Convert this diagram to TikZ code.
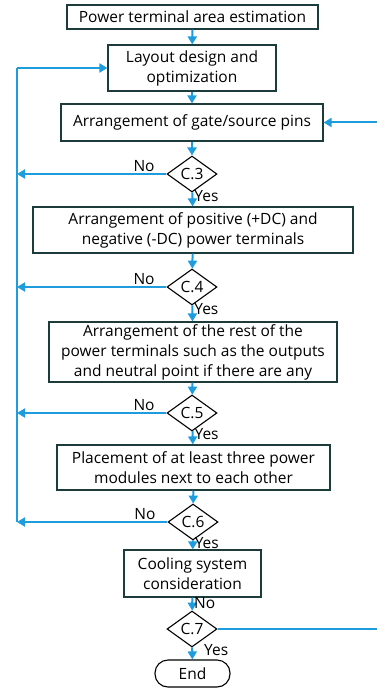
\documentclass[tikz,border=0pt]{standalone}
\usepackage{fontspec}
\setmainfont{Open Sans}
\usepackage{xcolor}
\usetikzlibrary{arrows.meta,positioning,calc,shapes.geometric}

\definecolor{flowblue}{RGB}{29,157,222}
\definecolor{boxline}{RGB}{28,60,60}

\begin{document}
\begin{tikzpicture}[
  x=1pt, y=-1pt,
  font=\fontsize{15.5}{20}\selectfont,
  box/.style={draw=boxline, line width=1.2pt, align=center, inner sep=1pt},
  cond/.style={draw, diamond, line width=1.1pt, minimum width=50pt,
    minimum height=36pt, inner sep=0pt},
  term/.style={draw, rounded corners=13pt, line width=1.1pt,
    minimum width=75pt, minimum height=27pt},
  lbl/.style={inner sep=1pt, text=black},
  flow/.style={-{Triangle[length=8pt,width=9pt]}, flowblue, line width=2pt},
  line/.style={flowblue, line width=2pt},
]
\useasboundingbox (0,0) rectangle (376,692);

% Steps
\node[box, minimum width=251pt, minimum height=24pt] (B1) at (192.5,17)
  {Power terminal area estimation};
\node[box, minimum width=168pt, minimum height=46pt] (B2) at (192,68)
  {Layout design and\\optimization};
\node[box, minimum width=262pt, minimum height=37pt] (B3) at (192,122.5)
  {Arrangement of gate/source pins};
\node[cond] (C3) at (192,174) {C.3};
\node[box, minimum width=320pt, minimum height=46pt] (B4) at (193,230)
  {Arrangement of positive (+DC) and\\negative (-DC) power terminals};
\node[cond] (C4) at (192,287) {C.4};
\node[box, minimum width=288pt, minimum height=60pt] (B5) at (193,352)
  {Arrangement of the rest of the\\power terminals such as the outputs\\and neutral point if there are any};
\node[cond] (C5) at (192,413) {C.5};
\node[box, minimum width=273pt, minimum height=45pt] (B6) at (193.5,467.5)
  {Placement of at least three power\\modules next to each other};
\node[cond] (C6) at (193,522) {C.6};
\node[box, minimum width=137pt, minimum height=47pt] (B7) at (192.5,573.5)
  {Cooling system\\consideration};
\node[cond] (C7) at (192,629) {C.7};
\node[term] (End) at (192.5,673.5) {End};

% Loop corners
\coordinate (Ltop) at (17,68);
\coordinate (Lbot) at (17,522);
\coordinate (Rgt) at (381,629);

% Main flow
\draw[flow] (B1) -- (B2);
\draw[flow] (B2) -- (B3);
\draw[flow] (B3) -- (C3);
\draw[flow] (C3) -- node[lbl, right, pos=0.25] {Yes} (B4);
\draw[flow] (B4) -- (C4);
\draw[flow] (C4) -- node[lbl, right, pos=0.25] {Yes} (B5);
\draw[flow] (B5) -- (C5);
\draw[flow] (C5) -- node[lbl, right, pos=0.25] {Yes} (B6);
\draw[flow] (B6) -- (C6);
\draw[flow] (C6) -- node[lbl, right, pos=0.25] {Yes} (B7);
\draw[flow] (B7) -- node[lbl, right, pos=0.45] {No} (C7);
\draw[flow] (C7) -- (End);
\node[lbl, anchor=west] at ($(C7.south)+(11,2)$) {Yes};

% Back to layout design
\draw[line] (Lbot) -- (Ltop);
\draw[flow] (Ltop) -- (B2.west);
\draw[flow] (C3.west) -- node[lbl, above, pos=0.15] {No} (C3.west -| Ltop);
\draw[flow] (C4.west) -- node[lbl, above, pos=0.15] {No} (C4.west -| Ltop);
\draw[flow] (C5.west) -- node[lbl, above, pos=0.15] {No} (C5.west -| Ltop);
\draw[flow] (C6.west) -- node[lbl, above, pos=0.15] {No} (C6.west -| Ltop);

% Back to gate/source pins
\draw[flow] (C7.east) -- (Rgt) |- (B3.east);
\end{tikzpicture}
\end{document}
